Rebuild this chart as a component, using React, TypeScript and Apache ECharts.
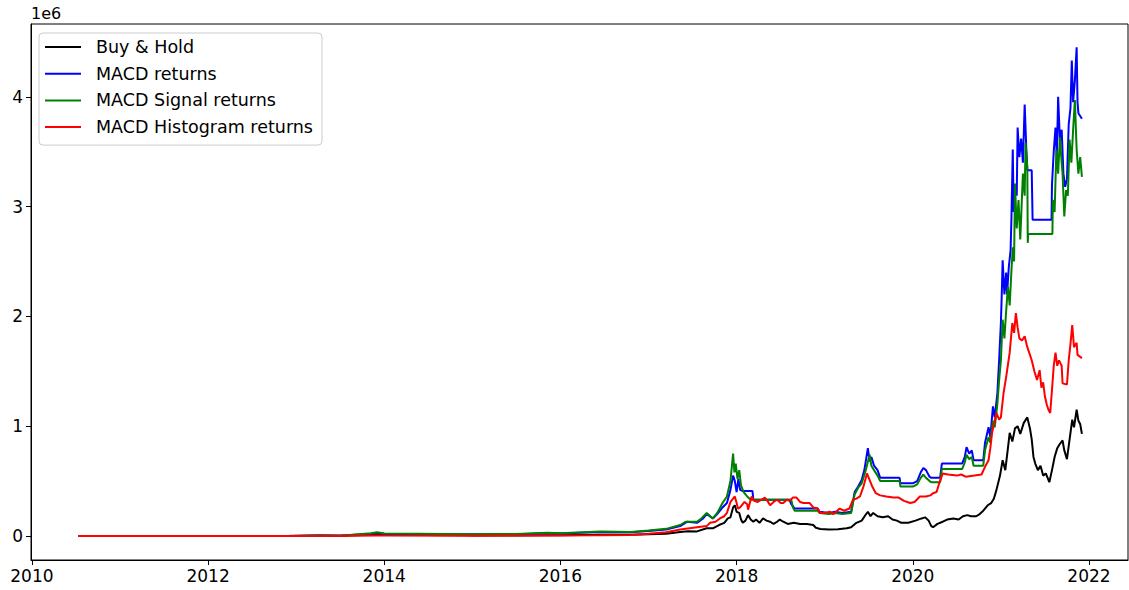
import React, { useEffect, useRef } from "react";
import * as echarts from "echarts";

const xTicks = [2010, 2012, 2014, 2016, 2018, 2020, 2022];
const yTicks = [0, 1, 2, 3, 4];
const seriesNames = ["Buy & Hold", "MACD returns", "MACD Signal returns", "MACD Histogram returns"];
const seriesColors = ["#000000", "#0000ff", "#008000", "#ff0000"];

// values in units of 1e6, x in fractional years
const buyHold = [
  [2010.53, 0], [2011.0, 0.0001], [2011.45, 0.0005], [2011.9, 0.0001], [2012.9, 0.0002], [2013.28, 0.004], [2013.5, 0.0015],
  [2013.85, 0.012], [2013.92, 0.019], [2014.0, 0.013], [2014.15, 0.01], [2014.45, 0.01], [2014.9, 0.006], [2015.05, 0.004],
  [2015.5, 0.0045], [2015.85, 0.0065], [2016.0, 0.007], [2016.45, 0.011], [2016.8, 0.011], [2017.0, 0.016], [2017.2, 0.021],
  [2017.36, 0.036], [2017.45, 0.044], [2017.55, 0.042], [2017.66, 0.07], [2017.73, 0.07], [2017.8, 0.1], [2017.86, 0.12],
  [2017.9, 0.16], [2017.93, 0.17], [2017.96, 0.26], [2017.98, 0.28], [2018.0, 0.22], [2018.03, 0.21], [2018.05, 0.15],
  [2018.07, 0.12], [2018.1, 0.14], [2018.13, 0.19], [2018.16, 0.15], [2018.19, 0.13], [2018.22, 0.15], [2018.26, 0.12],
  [2018.3, 0.16], [2018.34, 0.14], [2018.38, 0.13], [2018.42, 0.11], [2018.46, 0.13], [2018.49, 0.15], [2018.53, 0.13],
  [2018.58, 0.11], [2018.65, 0.12], [2018.72, 0.11], [2018.8, 0.11], [2018.87, 0.1], [2018.9, 0.075], [2018.95, 0.064],
  [2019.05, 0.06], [2019.15, 0.062], [2019.25, 0.07], [2019.3, 0.08], [2019.36, 0.12], [2019.42, 0.14], [2019.47, 0.2],
  [2019.49, 0.22], [2019.52, 0.18], [2019.55, 0.21], [2019.6, 0.18], [2019.66, 0.17], [2019.72, 0.18], [2019.77, 0.15],
  [2019.82, 0.14], [2019.87, 0.12], [2019.95, 0.12], [2020.03, 0.14], [2020.1, 0.16], [2020.14, 0.17], [2020.18, 0.14],
  [2020.21, 0.09], [2020.23, 0.08], [2020.28, 0.11], [2020.34, 0.13], [2020.39, 0.15], [2020.46, 0.16], [2020.52, 0.15],
  [2020.57, 0.18], [2020.62, 0.19], [2020.66, 0.18], [2020.72, 0.18], [2020.76, 0.2], [2020.8, 0.23], [2020.85, 0.28],
  [2020.89, 0.3], [2020.92, 0.34], [2020.95, 0.42], [2020.99, 0.55], [2021.02, 0.69], [2021.05, 0.6], [2021.08, 0.8],
  [2021.1, 0.94], [2021.13, 0.86], [2021.16, 0.98], [2021.19, 1.0], [2021.22, 0.93], [2021.26, 1.03], [2021.3, 1.08],
  [2021.33, 0.98], [2021.35, 0.88], [2021.37, 0.72], [2021.39, 0.66], [2021.42, 0.6], [2021.45, 0.64], [2021.48, 0.55],
  [2021.51, 0.57], [2021.55, 0.49], [2021.58, 0.6], [2021.61, 0.72], [2021.64, 0.8], [2021.67, 0.84], [2021.7, 0.87],
  [2021.72, 0.78], [2021.75, 0.7], [2021.78, 0.88], [2021.81, 1.06], [2021.83, 0.99], [2021.86, 1.15], [2021.88, 1.05],
  [2021.9, 1.02], [2021.92, 0.93],
];

const macdReturns = [
  [2010.53, 0], [2012.9, 0.0003], [2013.28, 0.004], [2013.5, 0.003], [2013.85, 0.02], [2013.92, 0.028], [2014.0, 0.02],
  [2014.4, 0.018], [2014.9, 0.016], [2015.5, 0.017], [2015.85, 0.026], [2016.0, 0.022], [2016.45, 0.036], [2016.8, 0.034],
  [2017.0, 0.045], [2017.2, 0.06], [2017.36, 0.09], [2017.44, 0.13], [2017.55, 0.12], [2017.62, 0.16], [2017.66, 0.2],
  [2017.73, 0.16], [2017.78, 0.2], [2017.84, 0.26], [2017.89, 0.3], [2017.93, 0.42], [2017.96, 0.55], [2017.98, 0.5],
  [2018.0, 0.4], [2018.02, 0.52], [2018.04, 0.42], [2018.07, 0.41], [2018.18, 0.41], [2018.19, 0.33], [2018.6, 0.33],
  [2018.62, 0.29], [2018.66, 0.25], [2018.92, 0.25], [2018.94, 0.22], [2019.05, 0.21], [2019.12, 0.22], [2019.2, 0.21],
  [2019.3, 0.22], [2019.34, 0.4], [2019.38, 0.45], [2019.42, 0.51], [2019.45, 0.6], [2019.49, 0.8], [2019.51, 0.68],
  [2019.53, 0.72], [2019.56, 0.64], [2019.6, 0.6], [2019.63, 0.53], [2019.85, 0.53], [2019.86, 0.48], [2020.0, 0.48],
  [2020.05, 0.5], [2020.09, 0.58], [2020.12, 0.62], [2020.15, 0.6], [2020.19, 0.54], [2020.21, 0.53], [2020.31, 0.53],
  [2020.33, 0.66], [2020.56, 0.66], [2020.59, 0.72], [2020.61, 0.81], [2020.64, 0.75], [2020.67, 0.78], [2020.69, 0.69],
  [2020.8, 0.69], [2020.82, 0.85], [2020.86, 0.99], [2020.88, 0.9], [2020.91, 1.18], [2020.93, 1.08], [2020.96, 1.3],
  [2020.98, 1.6], [2021.0, 1.94], [2021.01, 2.2], [2021.02, 2.51], [2021.04, 2.2], [2021.06, 2.4], [2021.07, 2.2],
  [2021.09, 2.45], [2021.11, 2.6], [2021.12, 2.9], [2021.135, 3.52], [2021.145, 2.95], [2021.16, 3.2], [2021.18, 3.1],
  [2021.19, 3.72], [2021.21, 3.45], [2021.23, 3.62], [2021.25, 3.4], [2021.27, 3.93], [2021.29, 3.5], [2021.3, 3.33],
  [2021.35, 3.33], [2021.36, 2.88], [2021.575, 2.88], [2021.58, 3.2], [2021.6, 3.5], [2021.62, 3.72], [2021.635, 3.45],
  [2021.65, 4.0], [2021.67, 3.6], [2021.69, 3.7], [2021.71, 3.3], [2021.73, 3.18], [2021.75, 3.25], [2021.77, 3.75],
  [2021.79, 3.9], [2021.805, 4.33], [2021.82, 3.95], [2021.84, 4.15], [2021.86, 4.45], [2021.87, 3.95], [2021.88, 3.85],
  [2021.92, 3.8],
];

const signalReturns = [
  [2010.53, 0], [2012.9, 0.0003], [2013.28, 0.004], [2013.5, 0.003], [2013.85, 0.025], [2013.92, 0.035], [2014.0, 0.022],
  [2014.4, 0.02], [2014.9, 0.017], [2015.5, 0.018], [2015.85, 0.03], [2016.0, 0.024], [2016.45, 0.04], [2016.8, 0.036],
  [2017.0, 0.05], [2017.2, 0.065], [2017.36, 0.1], [2017.42, 0.13], [2017.55, 0.13], [2017.6, 0.16], [2017.66, 0.21],
  [2017.73, 0.16], [2017.78, 0.21], [2017.84, 0.3], [2017.89, 0.36], [2017.93, 0.5], [2017.96, 0.75], [2017.975, 0.58],
  [2017.99, 0.66], [2018.01, 0.52], [2018.03, 0.6], [2018.05, 0.46], [2018.08, 0.4], [2018.12, 0.36], [2018.16, 0.33],
  [2018.62, 0.33], [2018.64, 0.26], [2018.66, 0.23], [2018.92, 0.23], [2018.94, 0.21], [2019.05, 0.2], [2019.12, 0.21],
  [2019.2, 0.2], [2019.3, 0.21], [2019.34, 0.38], [2019.38, 0.44], [2019.42, 0.48], [2019.46, 0.58], [2019.51, 0.74],
  [2019.53, 0.64], [2019.56, 0.6], [2019.6, 0.55], [2019.63, 0.5], [2019.85, 0.5], [2019.86, 0.45], [2020.0, 0.45],
  [2020.05, 0.47], [2020.09, 0.53], [2020.12, 0.56], [2020.15, 0.53], [2020.19, 0.5], [2020.21, 0.49], [2020.31, 0.49],
  [2020.33, 0.61], [2020.56, 0.61], [2020.59, 0.67], [2020.61, 0.74], [2020.64, 0.7], [2020.67, 0.72], [2020.69, 0.64],
  [2020.8, 0.64], [2020.82, 0.78], [2020.86, 0.9], [2020.88, 0.85], [2020.91, 1.05], [2020.93, 0.99], [2020.96, 1.2],
  [2020.98, 1.42], [2021.0, 1.6], [2021.02, 1.97], [2021.04, 1.8], [2021.06, 2.05], [2021.08, 2.27], [2021.1, 2.1],
  [2021.12, 2.42], [2021.135, 2.63], [2021.15, 2.5], [2021.16, 3.21], [2021.18, 2.8], [2021.2, 3.06], [2021.22, 2.7],
  [2021.25, 3.3], [2021.27, 3.1], [2021.28, 3.58], [2021.3, 3.36], [2021.305, 2.67], [2021.31, 2.75], [2021.585, 2.75],
  [2021.59, 3.06], [2021.61, 2.95], [2021.63, 3.52], [2021.65, 3.3], [2021.67, 3.63], [2021.69, 3.4], [2021.7, 3.3],
  [2021.72, 2.91], [2021.74, 3.15], [2021.76, 3.1], [2021.78, 3.61], [2021.8, 3.4], [2021.82, 3.7], [2021.84, 3.97],
  [2021.86, 3.52], [2021.88, 3.3], [2021.9, 3.45], [2021.92, 3.27],
];

const histogramReturns = [
  [2010.53, 0], [2013.0, 0.0002], [2013.28, 0.001], [2013.92, 0.005], [2014.0, 0.004], [2015.0, 0.003], [2015.85, 0.004],
  [2016.45, 0.006], [2016.8, 0.01], [2017.0, 0.02], [2017.2, 0.035], [2017.36, 0.06], [2017.55, 0.08], [2017.66, 0.09],
  [2017.7, 0.12], [2017.76, 0.13], [2017.81, 0.16], [2017.86, 0.18], [2017.89, 0.21], [2017.93, 0.31], [2017.98, 0.36],
  [2018.0, 0.3], [2018.015, 0.25], [2018.04, 0.26], [2018.09, 0.31], [2018.12, 0.29], [2018.13, 0.24], [2018.15, 0.3],
  [2018.17, 0.36], [2018.2, 0.32], [2018.24, 0.31], [2018.28, 0.33], [2018.32, 0.35], [2018.35, 0.32], [2018.38, 0.28],
  [2018.42, 0.31], [2018.46, 0.33], [2018.5, 0.3], [2018.53, 0.3], [2018.57, 0.33], [2018.6, 0.32], [2018.64, 0.35],
  [2018.68, 0.35], [2018.72, 0.31], [2018.76, 0.3], [2018.83, 0.3], [2018.87, 0.26], [2018.92, 0.25], [2018.95, 0.21],
  [2019.0, 0.21], [2019.06, 0.22], [2019.1, 0.2], [2019.17, 0.25], [2019.22, 0.23], [2019.28, 0.25], [2019.32, 0.33],
  [2019.36, 0.34], [2019.4, 0.36], [2019.44, 0.45], [2019.48, 0.57], [2019.5, 0.53], [2019.54, 0.45], [2019.58, 0.39],
  [2019.63, 0.37], [2019.7, 0.36], [2019.78, 0.35], [2019.84, 0.35], [2019.9, 0.32], [2019.97, 0.3], [2020.02, 0.31],
  [2020.08, 0.36], [2020.15, 0.36], [2020.2, 0.37], [2020.23, 0.39], [2020.27, 0.4], [2020.3, 0.48], [2020.34, 0.57],
  [2020.4, 0.56], [2020.5, 0.55], [2020.55, 0.56], [2020.6, 0.54], [2020.7, 0.55], [2020.78, 0.56], [2020.82, 0.63],
  [2020.86, 0.69], [2020.88, 0.8], [2020.9, 0.94], [2020.93, 1.05], [2020.95, 1.12], [2020.98, 1.06], [2021.0, 1.08],
  [2021.03, 1.3], [2021.06, 1.45], [2021.1, 1.67], [2021.13, 1.94], [2021.15, 1.85], [2021.17, 2.03], [2021.19, 1.9],
  [2021.21, 1.8], [2021.24, 1.78], [2021.27, 1.82], [2021.3, 1.72], [2021.33, 1.65], [2021.35, 1.6], [2021.38, 1.5],
  [2021.41, 1.42], [2021.44, 1.51], [2021.46, 1.35], [2021.48, 1.4], [2021.5, 1.27], [2021.52, 1.2], [2021.54, 1.15],
  [2021.56, 1.12], [2021.58, 1.33], [2021.6, 1.55], [2021.62, 1.67], [2021.64, 1.55], [2021.66, 1.6], [2021.69, 1.55],
  [2021.7, 1.39], [2021.75, 1.38], [2021.77, 1.6], [2021.79, 1.75], [2021.81, 1.92], [2021.83, 1.72], [2021.86, 1.76],
  [2021.87, 1.65], [2021.92, 1.62],
];

const allSeries = [buyHold, macdReturns, signalReturns, histogramReturns];
const FONT = "'DejaVu Sans', sans-serif";

export default function App() {
  const ref = useRef<HTMLDivElement>(null);
  useEffect(() => {
    document.body.style.margin = "0";
    const chart = echarts.init(ref.current as HTMLDivElement, undefined, { renderer: "svg" });
    chart.setOption({
      animation: false,
      backgroundColor: "#ffffff",
      grid: { left: 31, right: 1, top: 24, bottom: 30, show: true, borderColor: "#000", borderWidth: 1, backgroundColor: "transparent" },
      xAxis: {
        type: "value",
        min: 2009.99,
        max: 2022.443,
        axisLine: { show: true, onZero: false, lineStyle: { color: "#000", width: 1 } },
        axisTick: { show: true, length: 5, customValues: xTicks, lineStyle: { color: "#000" } },
        axisLabel: { customValues: xTicks, formatter: (v: number) => String(v), fontSize: 17, color: "#000", fontFamily: FONT, margin: 7 },
        splitLine: { show: false },
      },
      yAxis: {
        type: "value",
        min: -0.2186,
        max: 4.663,
        axisLine: { show: true, onZero: false, lineStyle: { color: "#000", width: 1 } },
        axisTick: { show: true, length: 5, customValues: yTicks, lineStyle: { color: "#000" } },
        axisLabel: { customValues: yTicks, formatter: (v: number) => String(v), fontSize: 17, color: "#000", fontFamily: FONT, margin: 8 },
        splitLine: { show: false },
      },
      graphic: [
        { type: "text", left: 31, top: 5, style: { text: "1e6", font: `16px ${FONT}`, fill: "#000" } },
      ],
      legend: {
        left: 39,
        top: 33,
        orient: "vertical",
        icon: "rect",
        itemWidth: 36,
        itemHeight: 2,
        itemGap: 6.7,
        padding: [4, 9, 8, 6],
        backgroundColor: "rgba(255,255,255,0.8)",
        borderColor: "#cccccc",
        borderWidth: 1,
        borderRadius: 4,
        textStyle: { fontSize: 17.5, fontFamily: FONT, color: "#000", lineHeight: 20, padding: [0, 0, 0, 10] },
        data: seriesNames,
      },
      series: allSeries.map((d, i) => ({
        name: seriesNames[i],
        type: "line",
        data: d,
        symbol: "none",
        showSymbol: false,
        color: seriesColors[i],
        lineStyle: { color: seriesColors[i], width: 2 },
        z: 2 + i,
      })),
    });
    return () => chart.dispose();
  }, []);
  return <div ref={ref} style={{ position: "absolute", left: 0, top: 0, width: 1129, height: 590 }} />;
}
